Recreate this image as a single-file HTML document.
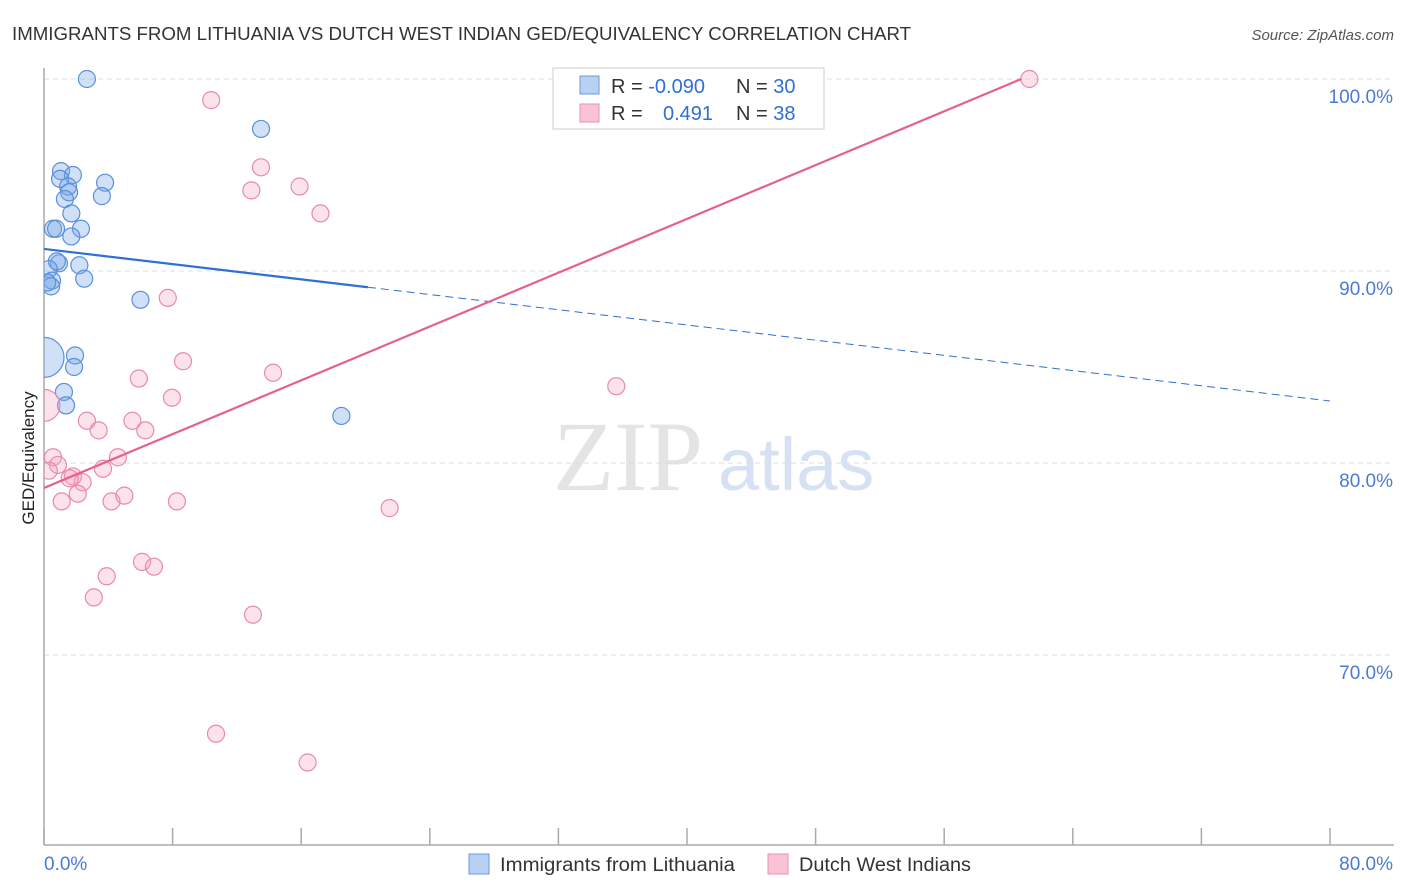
<!DOCTYPE html>
<html><head><meta charset="utf-8">
<style>
body{margin:0;background:#fff;font-family:"Liberation Sans",sans-serif;}
svg{display:block}
</style></head>
<body>
<svg id="chart" width="1406" height="892" viewBox="0 0 1406 892">
<defs><clipPath id="plotclip"><rect x="44" y="60" width="1360" height="785"/></clipPath></defs>
<text x="12" y="40" font-size="18" fill="#333" textLength="899" lengthAdjust="spacingAndGlyphs">IMMIGRANTS FROM LITHUANIA VS DUTCH WEST INDIAN GED/EQUIVALENCY CORRELATION CHART</text>
<text x="1394" y="40" font-size="15" fill="#555" font-style="italic" text-anchor="end">Source: ZipAtlas.com</text>
<text x="553" y="490" font-size="100" fill="#e4e4e4" font-family="Liberation Serif">ZIP</text>
<text x="718" y="490" font-size="74" fill="#d6e2f4">atlas</text>
<text transform="translate(34,458) rotate(-90)" font-size="17" fill="#222" text-anchor="middle">GED/Equivalency</text>
<g id="grid"></g>
<g id="axes"></g>
<g id="marks" clip-path="url(#plotclip)"></g>
<g>
<rect x="553" y="68" width="271" height="61" fill="#fff" stroke="#ccc"/>
<rect x="580" y="76" width="19" height="18" fill="#b8d0f2" stroke="#6a9ae0"/>
<rect x="580" y="104" width="19" height="18" fill="#f8c4d4" stroke="#ea90ae"/>
<text x="611" y="93" font-size="20" fill="#333">R = <tspan fill="#2f6fd6">-0.090</tspan></text>
<text x="736" y="93" font-size="20" fill="#333">N = <tspan fill="#2f6fd6">30</tspan></text>
<text x="611" y="120" font-size="20" fill="#333">R = <tspan fill="#2f6fd6" x="663">0.491</tspan></text>
<text x="736" y="120" font-size="20" fill="#333">N = <tspan fill="#2f6fd6">38</tspan></text>
</g>
<g>
<rect x="469" y="854" width="20" height="20" fill="#b8d0f2" stroke="#6a9ae0"/>
<text x="500" y="871" font-size="19" fill="#333" textLength="235" lengthAdjust="spacingAndGlyphs">Immigrants from Lithuania</text>
<rect x="768" y="854" width="20" height="20" fill="#f8c4d4" stroke="#ea90ae"/>
<text x="799" y="871" font-size="19" fill="#333" textLength="172" lengthAdjust="spacingAndGlyphs">Dutch West Indians</text>
</g>
</svg>
<script>
const yTicks=[100,90,80,70];
const yTickLabels=["100.0%","90.0%","80.0%","70.0%"];
const xTicks=[0,8,16,24,32,40,48,56,64,72,80];
const xEndLabels=["0.0%","80.0%"];
const blueX=[2.67,13.5,1.06,1.8,1.0,1.5,3.8,1.56,3.6,1.3,1.7,0.56,0.75,2.3,1.7,0.93,0.8,0.3,2.2,0.5,2.5,0.44,6.0,0,1.93,1.87,1.24,1.37,18.5,0.2];
const blueY=[100,97.4,95.2,95.0,94.8,94.4,94.6,94.1,93.9,93.75,93.0,92.2,92.2,92.2,91.8,90.4,90.5,90.1,90.3,89.5,89.6,89.2,88.5,85.5,85.6,85.0,83.7,83.0,82.45,89.4];
const blueR=[8.5,8.5,8.5,8.5,8.5,8.5,8.5,8.5,8.5,8.5,8.5,8.5,8.5,8.5,8.5,8.5,8.5,8.5,8.5,8.5,8.5,8.5,8.5,20,8.5,8.5,8.5,8.5,8.5,8.5];
const pinkX=[61.3,10.4,13.5,12.9,15.9,17.2,7.7,8.65,5.9,14.25,35.6,7.96,2.67,5.5,3.4,6.3,0,0.56,0.87,4.6,3.67,1.8,2.4,2.1,1.1,4.2,5.0,8.27,21.5,6.1,6.84,3.9,3.1,13.0,10.7,16.4,1.6,0.3];
const pinkY=[100,98.9,95.4,94.2,94.4,93.0,88.6,85.3,84.4,84.7,84.0,83.4,82.2,82.2,81.7,81.7,83.0,80.3,79.9,80.3,79.7,79.3,79.0,78.4,78.0,78.0,78.3,78.0,77.65,74.85,74.6,74.1,73.0,72.1,65.9,64.4,79.2,79.6];
const pinkR=[8.5,8.5,8.5,8.5,8.5,8.5,8.5,8.5,8.5,8.5,8.5,8.5,8.5,8.5,8.5,8.5,16,8.5,8.5,8.5,8.5,8.5,8.5,8.5,8.5,8.5,8.5,8.5,8.5,8.5,8.5,8.5,8.5,8.5,8.5,8.5,8.5,8.5];
const blueTrend=[91.15,83.23];
const blueSolidEnd=20.15;
const pinkTrend=[78.7,100];
const pinkTrendEnd=60.8;

const X=v=>44+v*(1286/80);
const Y=v=>79+(100-v)*19.2;
const NS="http://www.w3.org/2000/svg";
function mk(tag,attrs,parent){const e=document.createElementNS(NS,tag);for(const k in attrs)e.setAttribute(k,attrs[k]);parent.appendChild(e);return e;}
const grid=document.getElementById('grid'),axes=document.getElementById('axes'),marks=document.getElementById('marks');
yTicks.forEach((t,i)=>{
 const l=mk('line',{x1:44,x2:1394,y1:Y(t),y2:Y(t),stroke:'#ddd','stroke-dasharray':'5,4'},grid);
 
 
 const tx=mk('text',{x:1393,y:Y(t)+24,'font-size':19,fill:'#4a7bd4','text-anchor':'end'},axes);
 tx.textContent=yTickLabels[i];
 
 
});
const ya=mk('line',{x1:44,x2:44,y1:68,y2:845,stroke:'#aaa','stroke-width':1.5},axes);


const xa=mk('line',{x1:44,x2:1394,y1:845,y2:845,stroke:'#aaa','stroke-width':1.5},axes);


xTicks.forEach(t=>{
 const l=mk('line',{x1:X(t),x2:X(t),y1:828,y2:845,stroke:'#aaa','stroke-width':1.5},axes);
 
 
});
const xl0=mk('text',{x:44,y:870,'font-size':19,fill:'#4a7bd4'},axes);xl0.textContent=xEndLabels[0];


const xl1=mk('text',{x:1393,y:870,'font-size':19,fill:'#4a7bd4','text-anchor':'end'},axes);xl1.textContent=xEndLabels[1];


blueX.forEach((v,i)=>{
 const c=mk('circle',{cx:X(v),cy:Y(blueY[i]),r:blueR[i],fill:'rgba(120,165,230,0.35)',stroke:'#5a8fdc','stroke-width':1.2},marks);
 
 
});
pinkX.forEach((v,i)=>{
 const c=mk('circle',{cx:X(v),cy:Y(pinkY[i]),r:pinkR[i],fill:'rgba(244,160,190,0.3)',stroke:'#e98aab','stroke-width':1.2},marks);
 
 
});
const by=x=>blueTrend[0]+(blueTrend[1]-blueTrend[0])*x/80;
const b1=mk('line',{x1:X(0),y1:Y(by(0)),x2:X(blueSolidEnd),y2:Y(by(blueSolidEnd)),stroke:'#2f6fd6','stroke-width':2.2},marks);


const b2=mk('line',{x1:X(blueSolidEnd),y1:Y(by(blueSolidEnd)),x2:X(80),y2:Y(by(80)),stroke:'#2f6fd6','stroke-width':1,'stroke-dasharray':'8,5'},marks);


const p1=mk('line',{x1:X(0),y1:Y(pinkTrend[0]),x2:X(pinkTrendEnd),y2:Y(pinkTrend[1]),stroke:'#e5608e','stroke-width':2.2},marks);


</script>
</body></html>
